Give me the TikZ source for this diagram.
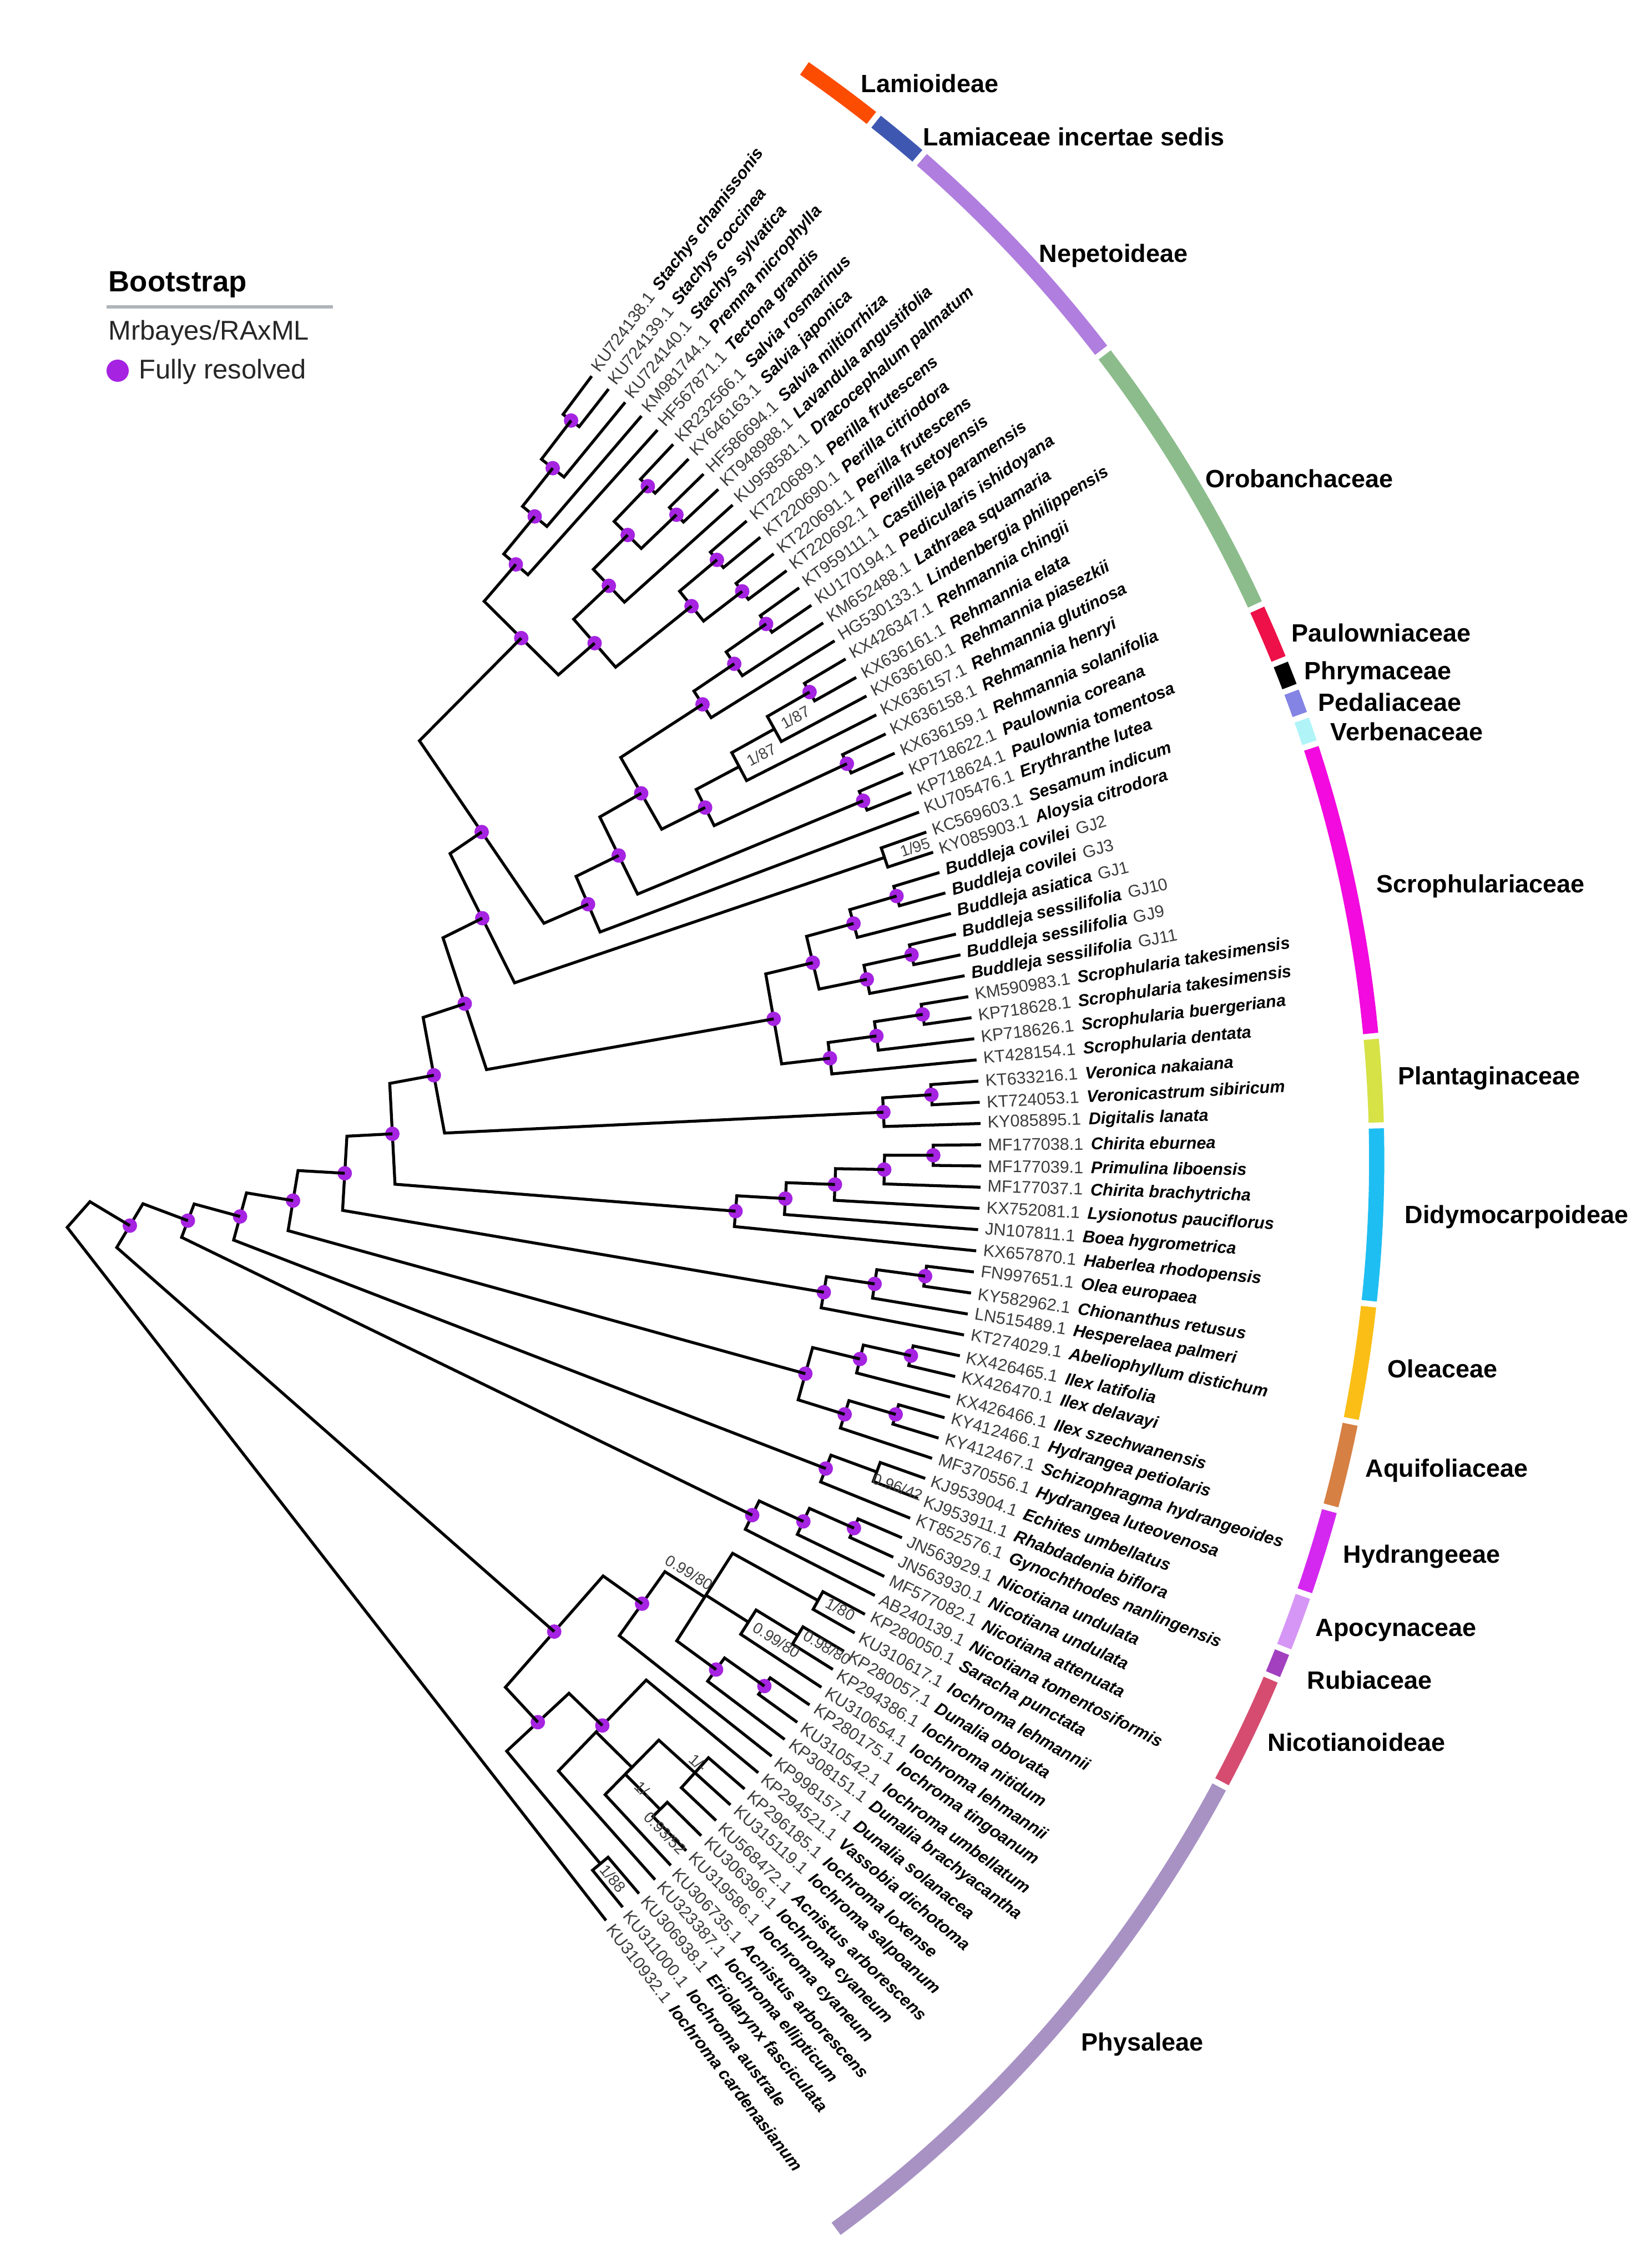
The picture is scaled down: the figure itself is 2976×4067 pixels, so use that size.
\documentclass[tikz,border=0pt]{standalone}
\usepackage{fontspec}
\setmainfont{Liberation Sans}
\definecolor{dotc}{RGB}{165,35,225}
\definecolor{idc}{RGB}{60,60,60}
\definecolor{lamio}{RGB}{252,76,2}
\definecolor{incert}{RGB}{62,88,178}
\definecolor{nepet}{RGB}{176,126,222}
\definecolor{oroban}{RGB}{140,188,140}
\definecolor{paulow}{RGB}{238,16,72}
\definecolor{phryma}{RGB}{0,0,0}
\definecolor{pedal}{RGB}{132,132,228}
\definecolor{verben}{RGB}{176,244,248}
\definecolor{scroph}{RGB}{242,10,222}
\definecolor{plant}{RGB}{214,226,70}
\definecolor{didymo}{RGB}{30,190,242}
\definecolor{olea}{RGB}{250,190,22}
\definecolor{aquif}{RGB}{214,128,68}
\definecolor{hydr}{RGB}{212,40,240}
\definecolor{apoc}{RGB}{214,150,246}
\definecolor{rubi}{RGB}{162,64,192}
\definecolor{nicot}{RGB}{214,76,112}
\definecolor{physal}{RGB}{168,146,196}
\definecolor{legline}{RGB}{175,180,185}
\tikzset{
  br/.style={line width=1.5pt, black},
  tiplab/.style={anchor=west, inner sep=0pt, font=\fontsize{8.7}{10}\selectfont},
  suplab/.style={inner sep=0pt, font=\fontsize{8}{9}\selectfont, text=black!75},
  cladelab/.style={anchor=west, inner sep=0pt, font=\bfseries\fontsize{12.8}{14}\selectfont},
  bandline/.style={line width=7.8pt},
}
% tips
\newcommand\deftip[1]{%
  \pgfmathsetmacro\tmpA{53.2-(#1-1)*1.254}%
  \expandafter\xdef\csname A@t#1\endcsname{\tmpA}%
  \expandafter\xdef\csname R@t#1\endcsname{1750}%
  \coordinate (t#1) at (\tmpA:1750);}
% internal node: dot, name, height, children
\newcommand\inode[4]{%
  \gdef\nFirst{}%
  \foreach \c in {#4}{\ifx\nFirst\empty\xdef\nFirst{\c}\fi\xdef\nLast{\c}}%
  \pgfmathsetmacro\nA{\csname A@\nFirst\endcsname}%
  \pgfmathsetmacro\nB{\csname A@\nLast\endcsname}%
  \pgfmathsetmacro\nM{(\nA+\nB)/2}%
  \pgfmathsetmacro\nR{1752-88*#3}%
  \pgfmathsetmacro\nH{(\nA-\nB)/2}%
  \pgfmathsetmacro\nP{\nR*cos(\nH)}%
  \expandafter\xdef\csname A@#2\endcsname{\nM}%
  \expandafter\xdef\csname R@#2\endcsname{\nP}%
  \expandafter\xdef\csname C@#2\endcsname{\nR}%
  \coordinate (#2) at (\nM:\nP);
  \draw[br] (\nFirst) -- (\nA:\nR) -- (\nB:\nR) -- (\nLast);
  \foreach \c in {#4}{%
    \ifx\c\nFirst\else\ifx\c\nLast\else
      \pgfmathsetmacro\nC{\csname A@\c\endcsname}%
      \pgfmathsetmacro\nQ{\nR*cos(\nH)/cos(\nC-\nM)}%
      \draw[br] (\nC:\nQ) -- (\c);
    \fi\fi}%
  \ifnum#1=1 \fill[dotc] (#2) circle[radius=3.7pt];\fi}
\newcommand\tl[3]{%
  \pgfmathsetmacro\tA{53.2-(#1-1)*1.254}%
  \node[tiplab,rotate=\tA] (L#1) at (\tA:1762) {\textcolor{idc}{#2}\hspace{0.45em}\textbf{\textit{#3}}};}
\newcommand\tlb[3]{%
  \pgfmathsetmacro\tA{53.2-(#1-1)*1.254}%
  \node[tiplab,rotate=\tA] (L#1) at (\tA:1762) {\textbf{\textit{#2}}\hspace{0.4em}\textcolor{idc}{#3}};}
\newcommand\slab[4]{%
  \pgfmathsetmacro\sA{\csname A@#1\endcsname-(#3)}%
  \pgfmathsetmacro\sR{\csname C@#1\endcsname+(#2)}%
  \node[suplab,rotate=\sA] (S#1) at (\sA:\sR) {#4};}
\newcommand\band[3]{%
  \pgfmathsetmacro\bS{0.3-1.025*(-53.2+(#1-1.5)*1.254)-0.13}%
  \pgfmathsetmacro\bE{0.3-1.025*(-53.2+(#2-0.5)*1.254)+0.13}%
  \draw[bandline,#3] (\bS:2391) arc[start angle=\bS, end angle=\bE, radius=23.91cm];}
\begin{document}
\begin{tikzpicture}[x=0.01cm,y=0.01cm]
\fill[white] (0,0) rectangle (2976,-4067);
\useasboundingbox (0,0) rectangle (2976,-4067);
\begin{scope}[shift={(18,-2079)}]
\foreach \k in {1,...,85}{\deftip{\k}}
% Lamiaceae
\inode{1}{n12}{1}{t1,t2}
\inode{1}{n123}{2}{n12,t3}
\inode{1}{n1234}{3}{n123,t4}
\inode{1}{Pc}{4}{n1234,t5}
\inode{1}{n67}{1}{t6,t7}
\inode{1}{n89}{1}{t8,t9}
\inode{1}{Ph}{2}{n67,n89}
\inode{1}{Pf}{3}{Ph,t10}
\inode{1}{nK}{1}{t11,t12}
\inode{1}{nL}{1}{t13,t14}
\inode{1}{Pg}{2}{nK,nL}
\inode{1}{Pe}{4}{Pf,Pg}
\inode{1}{Pd}{5}{Pc,Pe}
% Orobanchaceae
\inode{1}{Pn}{1}{t15,t16}
\inode{1}{Po}{2}{Pn,t17}
\inode{1}{Pp}{3}{Po,t18}
\inode{1}{Pq}{1}{t19,t20}
\inode{0}{Qa}{2}{Pq,t21}
\inode{0}{Qb}{3}{Qa,t22}
\inode{1}{Pr}{1}{t23,t24}
\inode{1}{Ps}{4}{Qb,Pr}
\inode{1}{Pt}{5}{Pp,Ps}
\inode{1}{Pu}{1}{t25,t26}
\inode{1}{Pv}{6}{Pt,Pu}
\inode{1}{Pw}{7}{Pv,t27}
\inode{1}{Px}{8}{Pd,Pw}
\inode{0}{Sp}{1}{t28,t29}
\inode{1}{Py}{9}{Px,Sp}
% Scrophulariaceae
\inode{1}{ba}{1}{t30,t31}
\inode{1}{bb}{2}{ba,t32}
\inode{1}{bc}{1}{t33,t34}
\inode{1}{bd}{2}{bc,t35}
\inode{1}{Bud}{3}{bb,bd}
\inode{1}{sa}{1}{t36,t37}
\inode{1}{sb}{2}{sa,t38}
\inode{1}{sc}{3}{sb,t39}
\inode{1}{Scr}{4}{Bud,sc}
\inode{1}{Pz}{10}{Py,Scr}
% Plantaginaceae
\inode{1}{pa}{1}{t40,t41}
\inode{1}{Pl}{2}{pa,t42}
\inode{1}{Paa}{11}{Pz,Pl}
% Didymocarpoideae
\inode{1}{da}{1}{t43,t44}
\inode{1}{db}{2}{da,t45}
\inode{1}{dc}{3}{db,t46}
\inode{1}{dd}{4}{dc,t47}
\inode{1}{de}{5}{dd,t48}
\inode{1}{Pbb}{12}{Paa,de}
% Oleaceae
\inode{1}{oa}{1}{t49,t50}
\inode{1}{ob}{2}{oa,t51}
\inode{1}{oc}{3}{ob,t52}
\inode{1}{Nf}{13}{Pbb,oc}
% Aquifoliaceae + Hydrangeeae
\inode{1}{ia}{1}{t53,t54}
\inode{1}{ib}{2}{ia,t55}
\inode{1}{ha}{1}{t56,t57}
\inode{1}{hb}{2}{ha,t58}
\inode{1}{IH}{3}{ib,hb}
\inode{1}{Ne}{14}{Nf,IH}
% Apocynaceae + Rubiaceae
\inode{0}{aa}{1}{t59,t60}
\inode{1}{ab}{2}{aa,t61}
\inode{1}{Nd}{15}{Ne,ab}
% Nicotianoideae
\inode{1}{ca}{1}{t62,t63}
\inode{1}{cb}{2}{ca,t64}
\inode{1}{cc}{3}{cb,t65}
\inode{1}{Nc}{16}{Nd,cc}
% Physaleae
\inode{0}{Ba}{1}{t66,t67}
\inode{0}{xa}{1}{t68,t69}
\inode{0}{Xb}{2}{xa,t70}
\inode{1}{za}{1}{t71,t72}
\inode{1}{Yb}{2}{za,t73}
\inode{0}{Vn}{3}{Ba,Xb,Yb}
\inode{1}{Tn}{4}{Vn,t74}
\inode{0}{wa}{1}{t76,t77,t78}
\inode{0}{wb}{1}{t79,t80}
\inode{0}{Dn}{2}{wa,wb,t81}
\inode{1}{Ua}{3}{t75,Dn,t82}
\inode{0}{Ub}{1}{t83,t84}
\inode{1}{Un}{4}{Ua,Ub}
\inode{1}{Sn}{5}{Tn,Un}
\inode{1}{Nb}{17}{Nc,Sn}
\inode{0}{Rt}{18}{Nb,t85}
% support values
\slab{Qa}{43}{0}{1/87}
\slab{Qb}{45}{0}{1/87}
\slab{Sp}{58}{0}{1/95}
\slab{aa}{45}{0.4}{0.96/42}
\slab{Vn}{-50}{-0.9}{0.99/80}
\slab{Xb}{60}{0}{0.99/80}
\slab{xa}{57}{-0.3}{0.98/80}
\slab{Ba}{43}{-0.2}{1/80}
\slab{wa}{-8}{-0.6}{1/-}
\slab{Dn}{43}{0.5}{1/-}
\slab{wb}{37}{0.8}{0.93/52}
\slab{Ub}{35}{0}{1/88}
% tip labels
\tl{1}{KU724138.1}{Stachys chamissonis}
\tl{2}{KU724139.1}{Stachys coccinea}
\tl{3}{KU724140.1}{Stachys sylvatica}
\tl{4}{KM981744.1}{Premna microphylla}
\tl{5}{HF567871.1}{Tectona grandis}
\tl{6}{KR232566.1}{Salvia rosmarinus}
\tl{7}{KY646163.1}{Salvia japonica}
\tl{8}{HF586694.1}{Salvia miltiorrhiza}
\tl{9}{KT948988.1}{Lavandula angustifolia}
\tl{10}{KU958581.1}{Dracocephalum palmatum}
\tl{11}{KT220689.1}{Perilla frutescens}
\tl{12}{KT220690.1}{Perilla citriodora}
\tl{13}{KT220691.1}{Perilla frutescens}
\tl{14}{KT220692.1}{Perilla setoyensis}
\tl{15}{KT959111.1}{Castilleja paramensis}
\tl{16}{KU170194.1}{Pedicularis ishidoyana}
\tl{17}{KM652488.1}{Lathraea squamaria}
\tl{18}{HG530133.1}{Lindenbergia philippensis}
\tl{19}{KX426347.1}{Rehmannia chingii}
\tl{20}{KX636161.1}{Rehmannia elata}
\tl{21}{KX636160.1}{Rehmannia piasezkii}
\tl{22}{KX636157.1}{Rehmannia glutinosa}
\tl{23}{KX636158.1}{Rehmannia henryi}
\tl{24}{KX636159.1}{Rehmannia solanifolia}
\tl{25}{KP718622.1}{Paulownia coreana}
\tl{26}{KP718624.1}{Paulownia tomentosa}
\tl{27}{KU705476.1}{Erythranthe lutea}
\tl{28}{KC569603.1}{Sesamum indicum}
\tl{29}{KY085903.1}{Aloysia citrodora}
\tlb{30}{Buddleja covilei}{GJ2}
\tlb{31}{Buddleja covilei}{GJ3}
\tlb{32}{Buddleja asiatica}{GJ1}
\tlb{33}{Buddleja sessilifolia}{GJ10}
\tlb{34}{Buddleja sessilifolia}{GJ9}
\tlb{35}{Buddleja sessilifolia}{GJ11}
\tl{36}{KM590983.1}{Scrophularia takesimensis}
\tl{37}{KP718628.1}{Scrophularia takesimensis}
\tl{38}{KP718626.1}{Scrophularia buergeriana}
\tl{39}{KT428154.1}{Scrophularia dentata}
\tl{40}{KT633216.1}{Veronica nakaiana}
\tl{41}{KT724053.1}{Veronicastrum sibiricum}
\tl{42}{KY085895.1}{Digitalis lanata}
\tl{43}{MF177038.1}{Chirita eburnea}
\tl{44}{MF177039.1}{Primulina liboensis}
\tl{45}{MF177037.1}{Chirita brachytricha}
\tl{46}{KX752081.1}{Lysionotus pauciflorus}
\tl{47}{JN107811.1}{Boea hygrometrica}
\tl{48}{KX657870.1}{Haberlea rhodopensis}
\tl{49}{FN997651.1}{Olea europaea}
\tl{50}{KY582962.1}{Chionanthus retusus}
\tl{51}{LN515489.1}{Hesperelaea palmeri}
\tl{52}{KT274029.1}{Abeliophyllum distichum}
\tl{53}{KX426465.1}{Ilex latifolia}
\tl{54}{KX426470.1}{Ilex delavayi}
\tl{55}{KX426466.1}{Ilex szechwanensis}
\tl{56}{KY412466.1}{Hydrangea petiolaris}
\tl{57}{KY412467.1}{Schizophragma hydrangeoides}
\tl{58}{MF370556.1}{Hydrangea luteovenosa}
\tl{59}{KJ953904.1}{Echites umbellatus}
\tl{60}{KJ953911.1}{Rhabdadenia biflora}
\tl{61}{KT852576.1}{Gynochthodes nanlingensis}
\tl{62}{JN563929.1}{Nicotiana undulata}
\tl{63}{JN563930.1}{Nicotiana undulata}
\tl{64}{MF577082.1}{Nicotiana attenuata}
\tl{65}{AB240139.1}{Nicotiana tomentosiformis}
\tl{66}{KP280050.1}{Saracha punctata}
\tl{67}{KU310617.1}{Iochroma lehmannii}
\tl{68}{KP280057.1}{Dunalia obovata}
\tl{69}{KP294386.1}{Iochroma nitidum}
\tl{70}{KU310654.1}{Iochroma lehmannii}
\tl{71}{KP280175.1}{Iochroma tingoanum}
\tl{72}{KU310542.1}{Iochroma umbellatum}
\tl{73}{KP308151.1}{Dunalia brachyacantha}
\tl{74}{KP998157.1}{Dunalia solanacea}
\tl{75}{KP294521.1}{Vassobia dichotoma}
\tl{76}{KP296185.1}{Iochroma loxense}
\tl{77}{KU315119.1}{Iochroma salpoanum}
\tl{78}{KU568472.1}{Acnistus arborescens}
\tl{79}{KU306396.1}{Iochroma cyaneum}
\tl{80}{KU319586.1}{Iochroma cyaneum}
\tl{81}{KU306735.1}{Acnistus arborescens}
\tl{82}{KU323387.1}{Iochroma ellipticum}
\tl{83}{KU306938.1}{Eriolarynx fasciculata}
\tl{84}{KU311000.1}{Iochroma australe}
\tl{85}{KU310932.1}{Iochroma cardenasianum}
\end{scope}
% clade band
\begin{scope}[shift={(90,-2090)}]
\band{1}{3}{lamio}
\band{4}{5}{incert}
\band{6}{14}{nepet}
\band{15}{24}{oroban}
\band{25}{26}{paulow}
\band{27}{27}{phryma}
\band{28}{28}{pedal}
\band{29}{29}{verben}
\band{30}{39}{scroph}
\band{40}{42}{plant}
\band{43}{48}{didymo}
\band{49}{52}{olea}
\band{53}{55}{aquif}
\band{56}{58}{hydr}
\band{59}{60}{apoc}
\band{61}{61}{rubi}
\band{62}{65}{nicot}
\band{66}{85}{physal}
\end{scope}
% clade labels
\node[cladelab] (cl1) at (1551,-150) {Lamioideae};
\node[cladelab] (cl2) at (1663,-246) {Lamiaceae incertae sedis};
\node[cladelab] (cl3) at (1872,-461) {Nepetoideae};
\node[cladelab] (cl4) at (2172,-862) {Orobanchaceae};
\node[cladelab] (cl5) at (2327,-1140) {Paulowniaceae};
\node[cladelab] (cl6) at (2350,-1213) {Phrymaceae};
\node[cladelab] (cl7) at (2375,-1265) {Pedaliaceae};
\node[cladelab] (cl8) at (2397,-1318) {Verbenaceae};
\node[cladelab] (cl9) at (2480,-1597) {Scrophulariaceae};
\node[cladelab] (cl10) at (2519,-1943) {Plantaginaceae};
\node[cladelab] (cl11) at (2531,-2193) {Didymocarpoideae};
\node[cladelab] (cl12) at (2500,-2466) {Oleaceae};
\node[cladelab] (cl13) at (2460,-2650) {Aquifoliaceae};
\node[cladelab] (cl14) at (2420,-2805) {Hydrangeeae};
\node[cladelab] (cl15) at (2370,-2938) {Apocynaceae};
\node[cladelab] (cl16) at (2355,-3027) {Rubiaceae};
\node[cladelab] (cl17) at (2284,-3139) {Nicotianoideae};
\node[cladelab] (cl18) at (1948,-3684) {Physaleae};
% legend
\node[anchor=base west, inner sep=0pt, font=\bfseries\fontsize{15}{17}\selectfont] (lg1) at (195,-526) {Bootstrap};
\draw[legline, line width=1.8pt] (192,-553) -- (600,-553);
\node[anchor=west, inner sep=0pt, font=\fontsize{13.9}{16}\selectfont, text=black!85] (lg2) at (195,-600) {Mrbayes/RAxML};
\fill[dotc] (212,-668) circle[radius=5.7pt];
\node[anchor=west, inner sep=0pt, font=\fontsize{13.9}{16}\selectfont, text=black!85] (lg3) at (250,-670) {Fully resolved};
\end{tikzpicture}
\end{document}
